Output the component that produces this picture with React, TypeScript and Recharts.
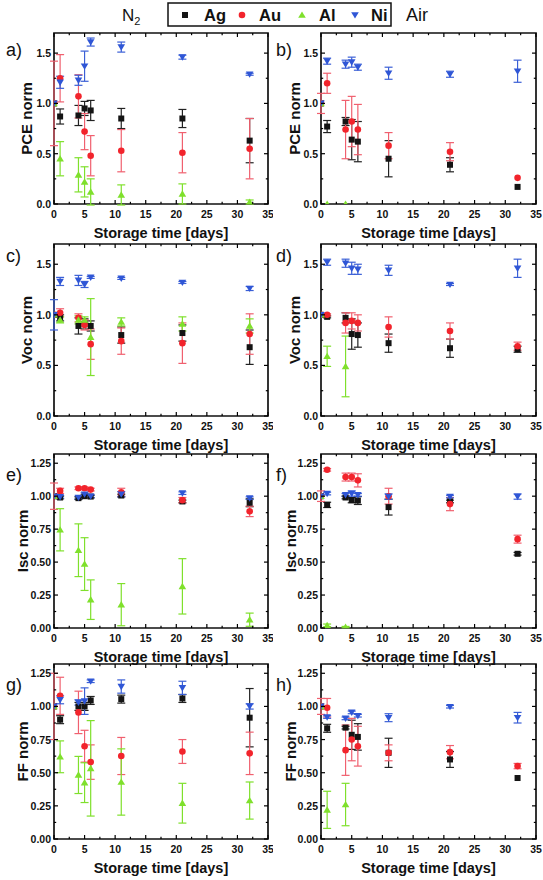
import React from 'react';
import { ScatterChart, Scatter, XAxis, YAxis, ErrorBar, ReferenceArea } from 'recharts';

const FONT = 'Arial, "Liberation Sans", Helvetica, sans-serif';

// storage time in days
const DAYS = [0, 1, 4, 5, 6, 11, 21, 32];
const X_TICKS = [0, 2.5, 5, 7.5, 10, 12.5, 15, 17.5, 20, 22.5, 25, 27.5, 30, 32.5, 35];
const Y_TICKS_PCE = [0, 0.25, 0.5, 0.75, 1.0, 1.25, 1.5];
const Y_TICKS_ISC = [0, 0.125, 0.25, 0.375, 0.5, 0.625, 0.75, 0.875, 1.0, 1.125, 1.25];

// a) PCE, N2
const pceN2Ag = [1.0, 0.87, 0.88, 0.95, 0.93, 0.85, 0.85, 0.63];
const pceN2AgErr = [0, 0.075, 0.1, 0.07, 0.1, 0.1, 0.09, 0.22];
const pceN2Au = [1.0, 1.25, 1.07, 0.72, 0.48, 0.53, 0.51, 0.55];
const pceN2AuErr = [0.42, 0.235, 0.215, 0.18, 0.2, 0.21, 0.2, 0.3];
const pceN2Al = [1.0, 0.45, 0.29, 0.22, 0.12, 0.09, 0.1, 0.02];
const pceN2AlErr = [0, 0.17, 0.17, 0.15, 0.13, 0.1, 0.1, 0.02];
const pceN2Ni = [1.0, 1.21, 1.23, 1.37, 1.61, 1.56, 1.46, 1.29];
const pceN2NiErr = [0, 0.06, 0.05, 0.15, 0.04, 0.05, 0.02, 0.01];

// b) PCE, Air
const pceAirAg = [1.0, 0.77, 0.82, 0.64, 0.62, 0.45, 0.39, 0.17];
const pceAirAgErr = [0, 0.06, 0.04, 0.2, 0.2, 0.18, 0.07, 0];
const pceAirAu = [1.0, 1.2, 0.74, 0.82, 0.74, 0.58, 0.52, 0.26];
const pceAirAuErr = [0.1, 0.1, 0.29, 0.25, 0.25, 0.13, 0.09, 0];
const pceAirAl = [1.0, 0.0, 0.0];
const pceAirAlErr = [0, 0, 0];
const pceAirNi = [1.0, 1.42, 1.39, 1.41, 1.36, 1.3, 1.29, 1.32];
const pceAirNiErr = [0, 0.03, 0.04, 0.05, 0.03, 0.06, 0.03, 0.11];

// c) Voc, N2
const vocN2Ag = [1.0, 0.97, 0.89, 0.91, 0.89, 0.8, 0.82, 0.68];
const vocN2AgErr = [0, 0.03, 0.08, 0.05, 0.05, 0.08, 0.08, 0.17];
const vocN2Au = [1.0, 1.02, 0.97, 0.9, 0.71, 0.74, 0.72, 0.81];
const vocN2AuErr = [0, 0.04, 0.04, 0.05, 0.15, 0.13, 0.2, 0.2];
const vocN2Al = [1.0, 0.95, 0.95, 0.95, 0.78, 0.93, 0.91, 0.89];
const vocN2AlErr = [0, 0.03, 0.04, 0.03, 0.38, 0.04, 0.07, 0.07];
const vocN2Ni = [1.0, 1.33, 1.34, 1.3, 1.37, 1.36, 1.32, 1.26];
const vocN2NiErr = [0.15, 0.04, 0.05, 0.03, 0.01, 0.01, 0.01, 0.02];

// d) Voc, Air
const vocAirAg = [1.0, 0.98, 0.97, 0.81, 0.8, 0.72, 0.67, 0.66];
const vocAirAgErr = [0, 0.01, 0.05, 0.15, 0.12, 0.09, 0.09, 0.03];
const vocAirAu = [1.0, 1.0, 0.92, 0.94, 0.92, 0.88, 0.84, 0.69];
const vocAirAuErr = [0, 0.01, 0.1, 0.08, 0.08, 0.1, 0.08, 0.04];
const vocAirAl = [1.0, 0.59, 0.49];
const vocAirAlErr = [0, 0.1, 0.3];
const vocAirNi = [1.0, 1.52, 1.51, 1.46, 1.45, 1.44, 1.3, 1.46];
const vocAirNiErr = [0, 0.03, 0.04, 0.06, 0.05, 0.05, 0.01, 0.09];

// e) Isc, N2
const iscN2Ag = [1.0, 0.99, 0.985, 1.0, 0.997, 1.005, 0.96, 0.95];
const iscN2AgErr = [0, 0.01, 0.01, 0.01, 0.01, 0.01, 0.01, 0.03];
const iscN2Au = [1.0, 1.04, 1.06, 1.06, 1.05, 1.03, 0.97, 0.885];
const iscN2AuErr = [0.1, 0.02, 0.01, 0.01, 0.01, 0.03, 0.02, 0.04];
const iscN2Al = [1.0, 0.745, 0.59, 0.485, 0.215, 0.177, 0.316, 0.063];
const iscN2AlErr = [0, 0.16, 0.2, 0.2, 0.15, 0.16, 0.21, 0.05];
const iscN2Ni = [1.0, 0.995, 0.99, 1.015, 1.0, 1.015, 1.023, 0.985];
const iscN2NiErr = [0, 0.01, 0.01, 0.01, 0.01, 0.02, 0.01, 0.01];

// f) Isc, Air
const iscAirAg = [1.0, 0.934, 0.99, 0.97, 0.967, 0.917, 0.96, 0.563];
const iscAirAgErr = [0, 0.02, 0.01, 0.02, 0.03, 0.06, 0.01, 0.01];
const iscAirAu = [1.0, 1.2, 1.145, 1.145, 1.12, 1.0, 0.94, 0.674];
const iscAirAuErr = [0.04, 0.01, 0.03, 0.03, 0.05, 0.06, 0.05, 0.03];
const iscAirAl = [1.0, 0.02, 0.007];
const iscAirAlErr = [0, 0.01, 0.005];
const iscAirNi = [1.0, 1.02, 1.01, 1.02, 1.01, 0.997, 0.997, 0.997];
const iscAirNiErr = [0, 0.01, 0.01, 0.02, 0.01, 0.02, 0.01, 0.02];

// g) FF, N2
const ffN2Ag = [1.0, 0.9, 1.0, 1.0, 1.045, 1.055, 1.06, 0.915];
const ffN2AgErr = [0, 0.03, 0.03, 0.03, 0.03, 0.03, 0.03, 0.22];
const ffN2Au = [1.0, 1.08, 0.955, 0.7, 0.58, 0.626, 0.66, 0.646];
const ffN2AuErr = [0.25, 0.14, 0.16, 0.12, 0.13, 0.14, 0.09, 0.16];
const ffN2Al = [1.0, 0.62, 0.483, 0.425, 0.533, 0.43, 0.27, 0.29];
const ffN2AlErr = [0, 0.12, 0.14, 0.15, 0.36, 0.25, 0.15, 0.14];
const ffN2Ni = [1.0, 1.05, 1.03, 1.04, 1.19, 1.15, 1.14, 1.0];
const ffN2NiErr = [0, 0.03, 0.02, 0.1, 0.01, 0.05, 0.05, 0.02];

// h) FF, Air
const ffAirAg = [1.0, 0.835, 0.84, 0.786, 0.77, 0.65, 0.6, 0.46];
const ffAirAgErr = [0, 0.03, 0.01, 0.11, 0.1, 0.11, 0.06, 0];
const ffAirAu = [1.0, 0.99, 0.67, 0.75, 0.7, 0.65, 0.655, 0.55];
const ffAirAuErr = [0.06, 0.07, 0.19, 0.16, 0.15, 0.06, 0.05, 0.02];
const ffAirAl = [1.0, 0.22, 0.26];
const ffAirAlErr = [0, 0.14, 0.16];
const ffAirNi = [1.0, 0.92, 0.91, 0.955, 0.93, 0.915, 0.998, 0.915];
const ffAirNiErr = [0, 0.01, 0.01, 0.01, 0.01, 0.03, 0.01, 0.04];

const SERIES_NAMES = ['Ag', 'Au', 'Al', 'Ni'];
const MARKER_COLORS = { Ag: '#141414', Au: '#f2242c', Al: '#7fe02c', Ni: '#2f56d6' };
const ERR_COLORS = { Ag: '#222222', Au: '#f0606f', Al: '#7fe02c', Ni: '#3a5fd6' };

// layout
const COL_L = [54, 321];
const COL_R = [268, 536];
const ROW_T = [33, 244, 454, 664];
const ROW_B = [204, 416, 628, 839];
const Y_AXIS_W = 30;
const X_AXIS_H = 20;

type Pt = { x: number; y: number; e: number };
function build(values: number[], errors: number[]): Pt[] {
  return values.map((v, i) => ({ x: DAYS[i], y: v, e: errors[i] ?? 0 }));
}

const PANELS = [
  { id: 'a)', title: 'PCE norm', col: 0, row: 0, yMax: 1.7, ticks: Y_TICKS_PCE, major: 0.5, dec: 1,
    data: [build(pceN2Ag, pceN2AgErr), build(pceN2Au, pceN2AuErr), build(pceN2Al, pceN2AlErr), build(pceN2Ni, pceN2NiErr)] },
  { id: 'b)', title: 'PCE norm', col: 1, row: 0, yMax: 1.7, ticks: Y_TICKS_PCE, major: 0.5, dec: 1,
    data: [build(pceAirAg, pceAirAgErr), build(pceAirAu, pceAirAuErr), build(pceAirAl, pceAirAlErr), build(pceAirNi, pceAirNiErr)] },
  { id: 'c)', title: 'Voc norm', col: 0, row: 1, yMax: 1.7, ticks: Y_TICKS_PCE, major: 0.5, dec: 1,
    data: [build(vocN2Ag, vocN2AgErr), build(vocN2Au, vocN2AuErr), build(vocN2Al, vocN2AlErr), build(vocN2Ni, vocN2NiErr)] },
  { id: 'd)', title: 'Voc norm', col: 1, row: 1, yMax: 1.7, ticks: Y_TICKS_PCE, major: 0.5, dec: 1,
    data: [build(vocAirAg, vocAirAgErr), build(vocAirAu, vocAirAuErr), build(vocAirAl, vocAirAlErr), build(vocAirNi, vocAirNiErr)] },
  { id: 'e)', title: 'Isc norm', col: 0, row: 2, yMax: 1.32, ticks: Y_TICKS_ISC, major: 0.25, dec: 2,
    data: [build(iscN2Ag, iscN2AgErr), build(iscN2Au, iscN2AuErr), build(iscN2Al, iscN2AlErr), build(iscN2Ni, iscN2NiErr)] },
  { id: 'f)', title: 'Isc norm', col: 1, row: 2, yMax: 1.32, ticks: Y_TICKS_ISC, major: 0.25, dec: 2,
    data: [build(iscAirAg, iscAirAgErr), build(iscAirAu, iscAirAuErr), build(iscAirAl, iscAirAlErr), build(iscAirNi, iscAirNiErr)] },
  { id: 'g)', title: 'FF norm', col: 0, row: 3, yMax: 1.32, ticks: Y_TICKS_ISC, major: 0.25, dec: 2,
    data: [build(ffN2Ag, ffN2AgErr), build(ffN2Au, ffN2AuErr), build(ffN2Al, ffN2AlErr), build(ffN2Ni, ffN2NiErr)] },
  { id: 'h)', title: 'FF norm', col: 1, row: 3, yMax: 1.32, ticks: Y_TICKS_ISC, major: 0.25, dec: 2,
    data: [build(ffAirAg, ffAirAgErr), build(ffAirAu, ffAirAuErr), build(ffAirAl, ffAirAlErr), build(ffAirNi, ffAirNiErr)] },
];

function Marker({ kind, cx, cy }: { kind: string; cx: number; cy: number }) {
  const c = (MARKER_COLORS as any)[kind];
  if (cx == null || cy == null || isNaN(cx) || isNaN(cy)) return <g />;
  if (kind === 'Ag') return <rect x={cx - 3} y={cy - 3} width={6} height={6} fill={c} />;
  if (kind === 'Au') return <circle cx={cx} cy={cy} r={3.3} fill={c} />;
  if (kind === 'Al')
    return <polygon points={`${cx},${cy - 3.6} ${cx + 3.8},${cy + 2.8} ${cx - 3.8},${cy + 2.8}`} fill={c} />;
  return <polygon points={`${cx},${cy + 3.6} ${cx + 3.8},${cy - 2.8} ${cx - 3.8},${cy - 2.8}`} fill={c} />;
}

function isMajor(v: number, step: number) {
  const r = v / step;
  return Math.abs(r - Math.round(r)) < 1e-6;
}

function XTick(props: any) {
  const { x, y, payload, plotH } = props;
  const v = payload.value;
  const major = isMajor(v, 5);
  const len = major ? 4 : 2.2;
  return (
    <g>
      <line x1={x} y1={y} x2={x} y2={y - len} stroke="#000" strokeWidth={1.2} />
      <line x1={x} y1={y - plotH} x2={x} y2={y - plotH + len} stroke="#000" strokeWidth={1.2} />
      {major && (
        <text x={x} y={y + 10} textAnchor="middle" dominantBaseline="central" fontSize={10.5}
          fontWeight="bold" fontFamily={FONT} fill="#111">{v}</text>
      )}
    </g>
  );
}

function YTick(props: any) {
  const { x, y, payload, plotW, majorStep, dec } = props;
  const v = payload.value;
  const major = isMajor(v, majorStep);
  const len = major ? 4 : 2.2;
  return (
    <g>
      <line x1={x} y1={y} x2={x + len} y2={y} stroke="#000" strokeWidth={1.2} />
      <line x1={x + plotW} y1={y} x2={x + plotW - len} y2={y} stroke="#000" strokeWidth={1.2} />
      {major && (
        <text x={x - 3} y={y} textAnchor="end" dominantBaseline="central" fontSize={10.5}
          fontWeight="bold" fontFamily={FONT} fill="#111">{v.toFixed(dec)}</text>
      )}
    </g>
  );
}

function Panel({ cfg }: { cfg: any }) {
  const L = COL_L[cfg.col];
  const R = COL_R[cfg.col];
  const T = ROW_T[cfg.row];
  const B = ROW_B[cfg.row];
  const svgLeft = cfg.col === 0 ? 0 : 270;
  const W = 273;
  const padTop = 10;
  const padBottom = 30;
  const top = T - padTop;
  const H = B - T + padTop + padBottom;
  const plotW = R - L;
  const plotH = B - T;
  return (
    <div style={{ position: 'absolute', left: svgLeft, top, width: W, height: H }}>
      <ScatterChart width={W} height={H}
        margin={{ top: padTop, left: L - svgLeft - Y_AXIS_W, right: svgLeft + W - R, bottom: padBottom - X_AXIS_H }}>
        <XAxis type="number" dataKey="x" domain={[0, 35]} ticks={X_TICKS} interval={0}
          allowDataOverflow height={X_AXIS_H} tickSize={0} tickMargin={0} tickLine={false} axisLine={false}
          tick={(p: any) => <XTick {...p} plotH={plotH} />} />
        <YAxis type="number" dataKey="y" domain={[0, cfg.yMax]} ticks={cfg.ticks} interval={0}
          allowDataOverflow width={Y_AXIS_W} tickSize={0} tickMargin={0} tickLine={false} axisLine={false}
          tick={(p: any) => <YTick {...p} plotW={plotW} majorStep={cfg.major} dec={cfg.dec} />} />
        <ReferenceArea x1={0} x2={35} y1={0} y2={cfg.yMax} fill="none" stroke="#111"
          strokeWidth={1.7} ifOverflow="visible" />
        {SERIES_NAMES.map((name, i) => (
          <Scatter key={name} name={name} data={cfg.data[i]} isAnimationActive={false}
            shape={(p: any) => <Marker kind={name} cx={p.cx} cy={p.cy} />}>
            <ErrorBar dataKey="e" direction="y" width={4} stroke={(ERR_COLORS as any)[name]}
              strokeWidth={1.2} isAnimationActive={false} />
          </Scatter>
        ))}
      </ScatterChart>
    </div>
  );
}

const ROW_LABEL_Y = [50, 256, 475, 685];
const TITLE_X = [[26, 294], [26, 294], [22, 290], [22, 290]];

export default function App() {
  return (
    <div style={{ position: 'absolute', left: 0, top: 0, width: 543, height: 880, background: '#fff' }}>
      {PANELS.map((p) => (
        <Panel key={p.id} cfg={p} />
      ))}
      <svg width={543} height={880} style={{ position: 'absolute', left: 0, top: 0, pointerEvents: 'none' }}>
        <text x={122} y={21} fontSize={17} fontFamily={FONT} fill="#111">
          N<tspan fontSize={11} dy={4}>2</tspan>
        </text>
        <rect x={168} y={3} width={223} height={23} fill="none" stroke="#111" strokeWidth={1.5} />
        <Marker kind="Ag" cx={185} cy={15} />
        <text x={204} y={15} dominantBaseline="central" fontSize={16.5} fontWeight="bold" fontFamily={FONT} fill="#111">Ag</text>
        <Marker kind="Au" cx={242} cy={15} />
        <text x={259} y={15} dominantBaseline="central" fontSize={16.5} fontWeight="bold" fontFamily={FONT} fill="#111">Au</text>
        <Marker kind="Al" cx={302} cy={15} />
        <text x={319} y={15} dominantBaseline="central" fontSize={16.5} fontWeight="bold" fontFamily={FONT} fill="#111">Al</text>
        <Marker kind="Ni" cx={355} cy={15} />
        <text x={371} y={15} dominantBaseline="central" fontSize={16.5} fontWeight="bold" fontFamily={FONT} fill="#111">Ni</text>
        <text x={406} y={21} fontSize={18} fontFamily={FONT} fill="#111">Air</text>
        {PANELS.map((p) => {
          const L = COL_L[p.col];
          const R = COL_R[p.col];
          const T = ROW_T[p.row];
          const B = ROW_B[p.row];
          const yx = TITLE_X[p.row][p.col];
          const lx = p.col === 0 ? 6 : 276;
          return (
            <g key={p.id}>
              <text x={lx} y={ROW_LABEL_Y[p.row]} dominantBaseline="central" fontSize={18} fontFamily={FONT} fill="#111">{p.id}</text>
              <text x={yx} y={(T + B) / 2} transform={`rotate(-90 ${yx} ${(T + B) / 2})`} textAnchor="middle"
                dominantBaseline="central" fontSize={15} fontWeight="bold" fontFamily={FONT} fill="#111">{p.title}</text>
              <text x={(L + R) / 2} y={B + 29} textAnchor="middle" dominantBaseline="central" fontSize={14.5}
                fontWeight="bold" fontFamily={FONT} fill="#111">Storage time [days]</text>
            </g>
          );
        })}
      </svg>
    </div>
  );
}
